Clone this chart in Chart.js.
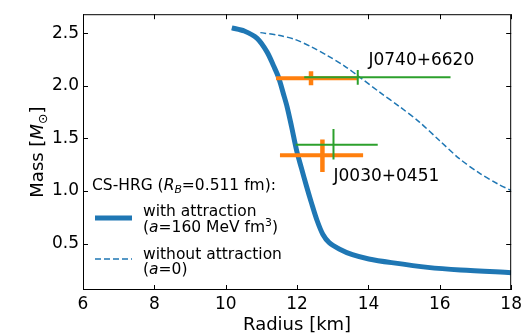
<!DOCTYPE html>
<html>
<head>
<meta charset="utf-8">
<script src="https://cdn.jsdelivr.net/npm/chart.js@4.4.1/dist/chart.umd.min.js"></script>
<style>
  html, body { margin: 0; padding: 0; background: #fff; }
</style>
</head>
<body>
<canvas id="mr" width="526" height="336"></canvas>
<script>
// --- оси ---
const xTicks = [6, 8, 10, 12, 14, 16, 18];
const yTicks = [0.5, 1.0, 1.5, 2.0, 2.5];

// --- CS-HRG, с притяжением (a=160 MeV fm^3) ---
const radiusAttr = [10.17, 10.52, 10.88, 11.16, 11.34, 11.48, 11.62, 11.72, 11.84, 11.99, 12.12, 12.26, 12.40, 12.56, 12.72, 12.90, 13.18, 13.55, 14.01, 14.65, 15.66, 16.58, 18.0];
const massAttr   = [2.55, 2.52, 2.45, 2.32, 2.19, 2.08, 1.92, 1.80, 1.62, 1.38, 1.22, 1.05, 0.89, 0.72, 0.59, 0.51, 0.45, 0.395, 0.355, 0.32, 0.275, 0.25, 0.225];

// --- без притяжения (a=0) ---
const radiusNoAttr = [10.97, 11.48, 11.94, 12.40, 12.86, 13.32, 13.78, 14.33, 14.88, 15.43, 15.99, 16.54, 17.09, 17.64, 18.0];
const massNoAttr   = [2.505, 2.48, 2.44, 2.37, 2.285, 2.19, 2.075, 1.935, 1.80, 1.655, 1.48, 1.31, 1.175, 1.065, 1.005];

// --- NICER: пульсары ---
const pulsars = ['J0740+6620', 'J0030+0451'];
const labelR = [14.0, 13.02];
const labelM = [2.20, 1.10];
// оранжевые
const orangeR = [12.39, 12.71];
const orangeRlo = [0.98, 1.19];
const orangeRhi = [1.30, 1.14];
const orangeM = [2.072, 1.34];
const orangeMlo = [0.066, 0.16];
const orangeMhi = [0.067, 0.15];
// зелёные
const greenR = [13.7, 13.02];
const greenRlo = [1.5, 1.06];
const greenRhi = [2.6, 1.24];
const greenM = [2.08, 1.44];
const greenMlo = [0.07, 0.14];
const greenMhi = [0.07, 0.15];

const BLUE = '#1f77b4';
const ORANGE = '#ff7f0e';
const GREEN = '#2ca02c';
const FONT = '"DejaVu Sans", sans-serif';

const toPoints = (xs, ys) => xs.map((x, i) => ({ x: x, y: ys[i] }));

function errorBars(r, rlo, rhi, m, mlo, mhi, color, wh, wv, order) {
    const out = [];
    r.forEach((rc, i) => {
        out.push({ data: [{ x: rc - rlo[i], y: m[i] }, { x: rc + rhi[i], y: m[i] }], borderColor: color, borderWidth: wh, tension: 0, order: order });
        out.push({ data: [{ x: rc, y: m[i] - mlo[i] }, { x: rc, y: m[i] + mhi[i] }], borderColor: color, borderWidth: wv, tension: 0, order: order });
    });
    return out;
}

const datasets = [
    { data: toPoints(radiusAttr, massAttr), borderColor: BLUE, borderWidth: 5, tension: 0.3, order: 3 },
    { data: toPoints(radiusNoAttr, massNoAttr), borderColor: BLUE, borderWidth: 1.5, borderDash: [6, 3], tension: 0.3, order: 4 },
    ...errorBars(orangeR, orangeRlo, orangeRhi, orangeM, orangeMlo, orangeMhi, ORANGE, 4, 4.5, 2),
    ...errorBars(greenR, greenRlo, greenRhi, greenM, greenMlo, greenMhi, GREEN, 2, 2, 1)
];

// текст с курсивом / индексами
function drawRuns(ctx, x, y, runs, size) {
    runs.forEach(r => {
        const s = (r.sub || r.sup) ? size * 0.7 : size;
        ctx.font = (r.it ? 'italic ' : '') + s + 'px ' + FONT;
        const dy = r.sub ? size * 0.22 : (r.sup ? -size * 0.38 : 0);
        ctx.fillText(r.t, x, y + dy);
        x += ctx.measureText(r.t).width;
    });
    return x;
}
function runsWidth(ctx, runs, size) {
    let w = 0;
    runs.forEach(r => {
        const s = (r.sub || r.sup) ? size * 0.7 : size;
        ctx.font = (r.it ? 'italic ' : '') + s + 'px ' + FONT;
        w += ctx.measureText(r.t).width;
    });
    return w;
}

const decorations = {
    id: 'decorations',
    afterDraw(chart) {
        const ctx = chart.ctx;
        const a = chart.chartArea;
        const x = chart.scales.x;
        const y = chart.scales.y;
        ctx.save();
        ctx.strokeStyle = '#000';
        ctx.lineWidth = 1;
        ctx.setLineDash([]);

        // засечки внутрь на всех сторонах
        ctx.beginPath();
        xTicks.forEach(v => {
            const px = Math.round(x.getPixelForValue(v)) + 0.5;
            ctx.moveTo(px, a.bottom); ctx.lineTo(px, a.bottom - 5);
            ctx.moveTo(px, a.top); ctx.lineTo(px, a.top + 5);
        });
        yTicks.forEach(v => {
            const py = Math.round(y.getPixelForValue(v)) + 0.5;
            ctx.moveTo(a.left, py); ctx.lineTo(a.left + 5, py);
            ctx.moveTo(a.right, py); ctx.lineTo(a.right - 5, py);
        });
        ctx.stroke();
        ctx.strokeRect(a.left + 0.5, a.top + 0.5, a.right - a.left - 1, a.bottom - a.top - 1);

        ctx.fillStyle = '#000';
        ctx.textBaseline = 'alphabetic';
        ctx.textAlign = 'left';

        // подписи пульсаров
        ctx.font = '17px ' + FONT;
        pulsars.forEach((name, i) => {
            ctx.fillText(name, x.getPixelForValue(labelR[i]), y.getPixelForValue(labelM[i]));
        });

        // подписи осей
        ctx.font = '18px ' + FONT;
        ctx.textAlign = 'center';
        ctx.fillText('Radius [km]', (a.left + a.right) / 2, a.bottom + 40);
        ctx.textAlign = 'left';
        const yTitle = [{ t: 'Mass [' }, { t: 'M', it: true }, { t: '\u2299', sub: true }, { t: ']' }];
        ctx.save();
        ctx.translate(a.left - 40, (a.top + a.bottom) / 2);
        ctx.rotate(-Math.PI / 2);
        drawRuns(ctx, -runsWidth(ctx, yTitle, 18) / 2, 0, yTitle, 18);
        ctx.restore();

        // легенда
        const lx = a.left, lb = a.bottom;
        const fs = 15.5;
        drawRuns(ctx, lx + 9, lb - 100, [{ t: 'CS-HRG (' }, { t: 'R', it: true }, { t: 'B', it: true, sub: true }, { t: '=0.511 fm):' }], fs);
        drawRuns(ctx, lx + 60, lb - 74, [{ t: 'with attraction' }], fs);
        drawRuns(ctx, lx + 60, lb - 58, [{ t: '(' }, { t: 'a', it: true }, { t: '=160 MeV fm' }, { t: '3', sup: true }, { t: ')' }], fs);
        drawRuns(ctx, lx + 60, lb - 31, [{ t: 'without attraction' }], fs);
        drawRuns(ctx, lx + 60, lb - 16, [{ t: '(' }, { t: 'a', it: true }, { t: '=0)' }], fs);

        ctx.strokeStyle = BLUE;
        ctx.lineWidth = 5;
        ctx.beginPath();
        ctx.moveTo(lx + 12, lb - 72); ctx.lineTo(lx + 49, lb - 72);
        ctx.stroke();
        ctx.lineWidth = 1.5;
        ctx.setLineDash([6, 3]);
        ctx.beginPath();
        ctx.moveTo(lx + 12, lb - 31); ctx.lineTo(lx + 49, lb - 31);
        ctx.stroke();
        ctx.restore();
    }
};

new Chart(document.getElementById('mr'), {
    type: 'line',
    data: { datasets: datasets },
    options: {
        responsive: false,
        animation: false,
        devicePixelRatio: 1,
        layout: { padding: { top: 8, right: 8, left: 0, bottom: 0 } },
        elements: { point: { radius: 0, hoverRadius: 0 }, line: { fill: false, borderCapStyle: 'butt' } },
        plugins: { legend: { display: false }, tooltip: { enabled: false } },
        scales: {
            x: {
                type: 'linear', min: 6, max: 18,
                grid: { display: false, drawTicks: false },
                border: { display: false },
                afterBuildTicks: s => { s.ticks = xTicks.map(v => ({ value: v })); },
                afterFit: s => { s.height = 46; },
                ticks: { padding: 4, color: '#000', font: { family: FONT, size: 17 }, callback: v => String(v) }
            },
            y: {
                type: 'linear', min: 0.06, max: 2.68,
                grid: { display: false, drawTicks: false },
                border: { display: false },
                afterBuildTicks: s => { s.ticks = yTicks.map(v => ({ value: v })); },
                afterFit: s => { s.width = 83; },
                ticks: { padding: 4, color: '#000', font: { family: FONT, size: 17 }, callback: v => v.toFixed(1) }
            }
        }
    },
    plugins: [decorations]
});
</script>
</body>
</html>
